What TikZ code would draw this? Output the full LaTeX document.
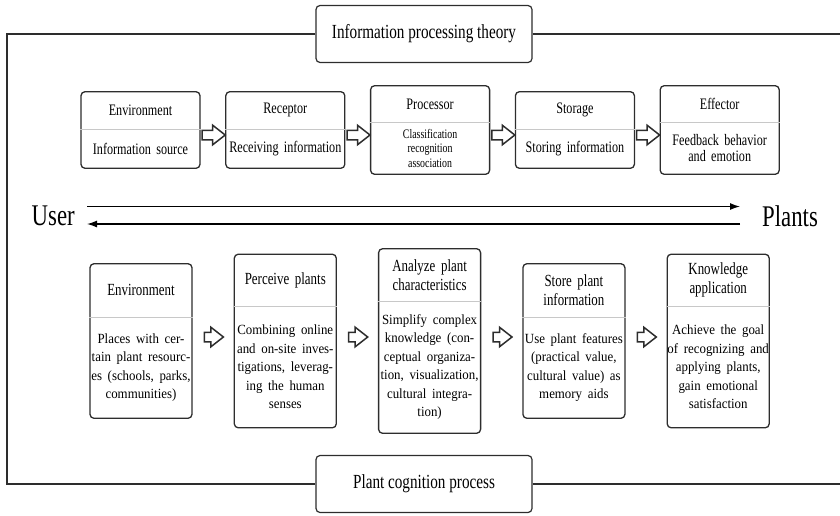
\documentclass[tikz,border=0pt]{standalone}
\usepackage{fontspec}
\setmainfont[FakeStretch=0.76]{Liberation Serif}
\newfontfamily\bodyfont[FakeStretch=0.92]{Liberation Serif}
\usepackage{tikz}
\usetikzlibrary{arrows.meta,positioning,shapes.multipart,shapes.arrows}
\definecolor{framegray}{RGB}{45, 45, 45}
\definecolor{splitgray}{RGB}{200, 200, 200}
\newcommand{\stagepart}[2]{\parbox[c][#1][c]{\linewidth}{\centering #2}}
\newcommand{\lowbody}{\bodyfont\fontsize{14}{18.5}\selectfont}
\tikzset{
  titlebox/.style={
    draw=framegray,
    line width=1.2pt,
    rounded corners=4pt,
    minimum width=216pt,
    minimum height=57pt,
    inner sep=0pt,
    font=\fontsize{20}{22}\selectfont
  },
  frameline/.style={
    draw=framegray,
    line width=1.2pt
  },
  stagebox/.style={
    draw=framegray,
    line width=1.3pt,
    rounded corners=4pt,
    rectangle split,
    rectangle split parts=2,
    rectangle split draw splits=false,
    inner sep=0pt,
    align=center
  },
  topstage/.style={
    stagebox,
    text width=119pt,
    font=\fontsize{16}{16.5}\selectfont
  },
  lowstage/.style={
    stagebox,
    text width=102pt,
    font=\fontsize{17}{19}\selectfont
  },
  splitline/.style={
    draw=splitgray,
    line width=0.7pt
  },
  openarrow/.style={
    single arrow,
    draw=framegray,
    line width=1.5pt,
    inner xsep=0pt,
    inner ysep=4pt,
    single arrow head extend=5pt,
    single arrow tip angle=76,
    minimum height=23pt
  },
  sidelabel/.style={
    inner sep=0pt,
    font=\fontsize{30}{32}\selectfont
  },
  flowarrow/.style={
    -{Latex[length=10pt,width=7pt]},
    line width=1.3pt,
    draw=black
  }
}

\begin{document}
\begin{tikzpicture}[x=1pt, y=-1pt]
  \useasboundingbox (0,0) rectangle (840,515);

  % outer frame with the two titles
  \node[titlebox] (theory) at (424,34) {Information processing theory};
  \node[titlebox] (cognition) at (424,484) {Plant cognition process};
  \coordinate (ftl) at (7,34);
  \coordinate (fbl) at (7,484);
  \coordinate (ftr) at (840,34);
  \coordinate (fbr) at (840,484);
  \draw[frameline] (theory.west) -- (ftl) -- (fbl) -- (cognition.west);
  \draw[frameline] (theory.east) -- (ftr);
  \draw[frameline] (cognition.east) -- (fbr);

  % information processing row
  \node[topstage] (tenv) at (140.5,130) {\stagepart{36pt}{Environment}\nodepart{two}\stagepart{38pt}{Information source}};
  \node[topstage, right=24.5pt of tenv] (trec) {\stagepart{36pt}{Receptor}\nodepart{two}\stagepart{38pt}{Receiving information}};
  \node[topstage, right=24.5pt of trec] (tpro) {\stagepart{35pt}{Processor}\nodepart{two}\stagepart{51pt}{\fontsize{13}{14.5}\selectfont Classification\\recognition\\association}};
  \node[topstage, right=24.5pt of tpro] (tsto) {\stagepart{36pt}{Storage}\nodepart{two}\stagepart{38pt}{Storing information}};
  \node[topstage, right=24.5pt of tsto] (teff) {\stagepart{35pt}{Effector}\nodepart{two}\stagepart{51pt}{Feedback behavior\\and emotion}};

  % user and plants
  \node[sidelabel, anchor=east] (user) at (75,216) {User};
  \node[sidelabel, anchor=west] (plants) at (762,216) {Plants};
  \draw[flowarrow] ([xshift=12pt,yshift=9.5pt]user.east) -- ([xshift=-22pt,yshift=9.5pt]plants.west);
  \draw[flowarrow] ([xshift=-22pt,yshift=-8pt]plants.west) -- ([xshift=12pt,yshift=-8pt]user.east);

  % plant cognition row
  \node[lowstage] (lenv) at (141,341) {\stagepart{52pt}{Environment}\nodepart{two}\stagepart{100pt}{\lowbody Places with cer-\\tain plant resourc-\\es (schools, parks,\\communities)}};
  \node[lowstage, right=41pt of lenv] (lper) {\stagepart{51pt}{Perceive plants}\nodepart{two}\stagepart{120pt}{\lowbody Combining online\\and on-site inves-\\tigations, leverag-\\ing the human\\senses}};
  \node[lowstage, right=41pt of lper] (lana) {\stagepart{51pt}{Analyze plant\\characteristics}\nodepart{two}\stagepart{131pt}{\lowbody Simplify complex\\knowledge (con-\\ceptual organiza-\\tion, visualization,\\cultural integra-\\tion)}};
  \node[lowstage, right=41pt of lana] (lsto) {\stagepart{52pt}{Store plant\\information}\nodepart{two}\stagepart{100pt}{\lowbody Use plant features\\(practical value,\\cultural value) as\\memory aids}};
  \node[lowstage, right=41pt of lsto] (lkno) {\stagepart{51pt}{Knowledge\\application}\nodepart{two}\stagepart{120pt}{\lowbody Achieve the goal\\of recognizing and\\applying plants,\\gain emotional\\satisfaction}};

  \foreach \n in {tenv,trec,tpro,tsto,teff,lenv,lper,lana,lsto,lkno}
    \draw[splitline] (\n.text split west) -- (\n.text split east);

  % hollow arrows between the stages
  \node[openarrow, right=0.8pt of tenv, yshift=-5pt] (ta1) {};
  \node[openarrow, right=0.8pt of trec, yshift=-5pt] (ta2) {};
  \node[openarrow, right=0.8pt of tpro, yshift=-5pt] (ta3) {};
  \node[openarrow, right=0.8pt of tsto, yshift=-5pt] (ta4) {};
  \node[openarrow, minimum height=19pt, right=11pt of lenv, yshift=4pt] (la1) {};
  \node[openarrow, minimum height=19pt, right=11pt of lper, yshift=4pt] (la2) {};
  \node[openarrow, minimum height=19pt, right=11pt of lana, yshift=4pt] (la3) {};
  \node[openarrow, minimum height=19pt, right=11pt of lsto, yshift=4pt] (la4) {};
\end{tikzpicture}
\end{document}
